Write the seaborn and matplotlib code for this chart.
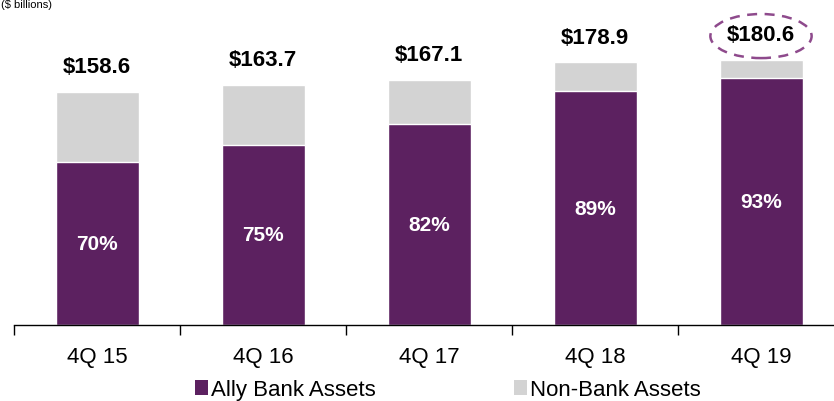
import matplotlib
matplotlib.use("Agg")
import matplotlib.pyplot as plt
from matplotlib.patches import Patch, Ellipse
from matplotlib.transforms import offset_copy
import seaborn as sns
import pandas as pd

# Data
quarters = ["4Q 15", "4Q 16", "4Q 17", "4Q 18", "4Q 19"]
totals = [158.6, 163.7, 167.1, 178.9, 180.6]
bank_pct = [70, 75, 82, 89, 93]

purple = "#5C2160"
gray = "#D3D3D3"

sns.set_style("white")
plt.rcParams["font.family"] = ["Liberation Sans", "DejaVu Sans"]
plt.rcParams["text.color"] = "black"
plt.rcParams["xtick.color"] = "black"
plt.rcParams["xtick.labelcolor"] = "black"

df = pd.DataFrame({"quarter": quarters, "total": totals, "pct": bank_pct})
df["bank"] = df["total"] * df["pct"] / 100

fig = plt.figure(figsize=(8.34, 4.02), dpi=100)
ax = fig.add_axes([14 / 834, 76 / 402, 830 / 834, 326 / 402])

sns.barplot(data=df, x="quarter", y="total", color=gray, width=0.5,
            saturation=1, ax=ax)
sns.barplot(data=df, x="quarter", y="bank", color=purple, width=0.5,
            saturation=1, ax=ax)

ax.set_ylim(0, 221.9)
ax.set_xlim(-0.5, 4.5)
ax.set_xlabel("")
ax.set_ylabel("")
ax.set_yticks([])

for s in ["left", "top", "right"]:
    ax.spines[s].set_visible(False)
ax.spines["bottom"].set_color("black")
ax.spines["bottom"].set_linewidth(1)

ax.set_xticks(range(len(quarters)))
ax.set_xticklabels(quarters, fontsize=16, color="black")
ax.tick_params(axis="x", which="major", length=0, pad=15)
ax.set_xticks([i - 0.5 for i in range(len(quarters) + 1)], minor=True)
ax.tick_params(axis="x", which="minor", length=7, width=1, color="black",
               direction="out", bottom=True)

# labels
for i, row in df.iterrows():
    ax.annotate(f"${row['total']:.1f}", (i, row["total"]),
                xytext=(0, 18), textcoords="offset points", color="black",
                ha="center", va="center", fontsize=16, fontweight="bold")
    ax.text(i, row["bank"] / 2, f"{row['pct']}%", ha="center", va="center",
            fontsize=15, fontweight="bold", color="white")

# dashed ellipse around the latest total label
ell = Ellipse((4, totals[-1]), width=0.61, height=30, fill=False,
              edgecolor="#8E4A8C", linestyle=(0, (4, 3)), linewidth=1.8,
              clip_on=False)
ell.set_transform(offset_copy(ax.transData, fig=fig, x=0, y=17, units="points"))
ax.add_patch(ell)

handles = [Patch(facecolor=purple, edgecolor="none", label="Ally Bank Assets"),
           Patch(facecolor=gray, edgecolor="none", label="Non-Bank Assets")]
fig.legend(handles=handles, loc="center left",
           bbox_to_anchor=(195 / 834, 11 / 402), ncol=2, frameon=False,
           fontsize=16, handlelength=0.6, handleheight=0.65,
           handletextpad=0.12, columnspacing=6.2, borderpad=0,
           borderaxespad=0, labelcolor="black")

fig.text(1 / 834, 1.0, "($ billions)", fontsize=8, ha="left", va="top",
         color="black")

fig.savefig("out.png", dpi=100)
